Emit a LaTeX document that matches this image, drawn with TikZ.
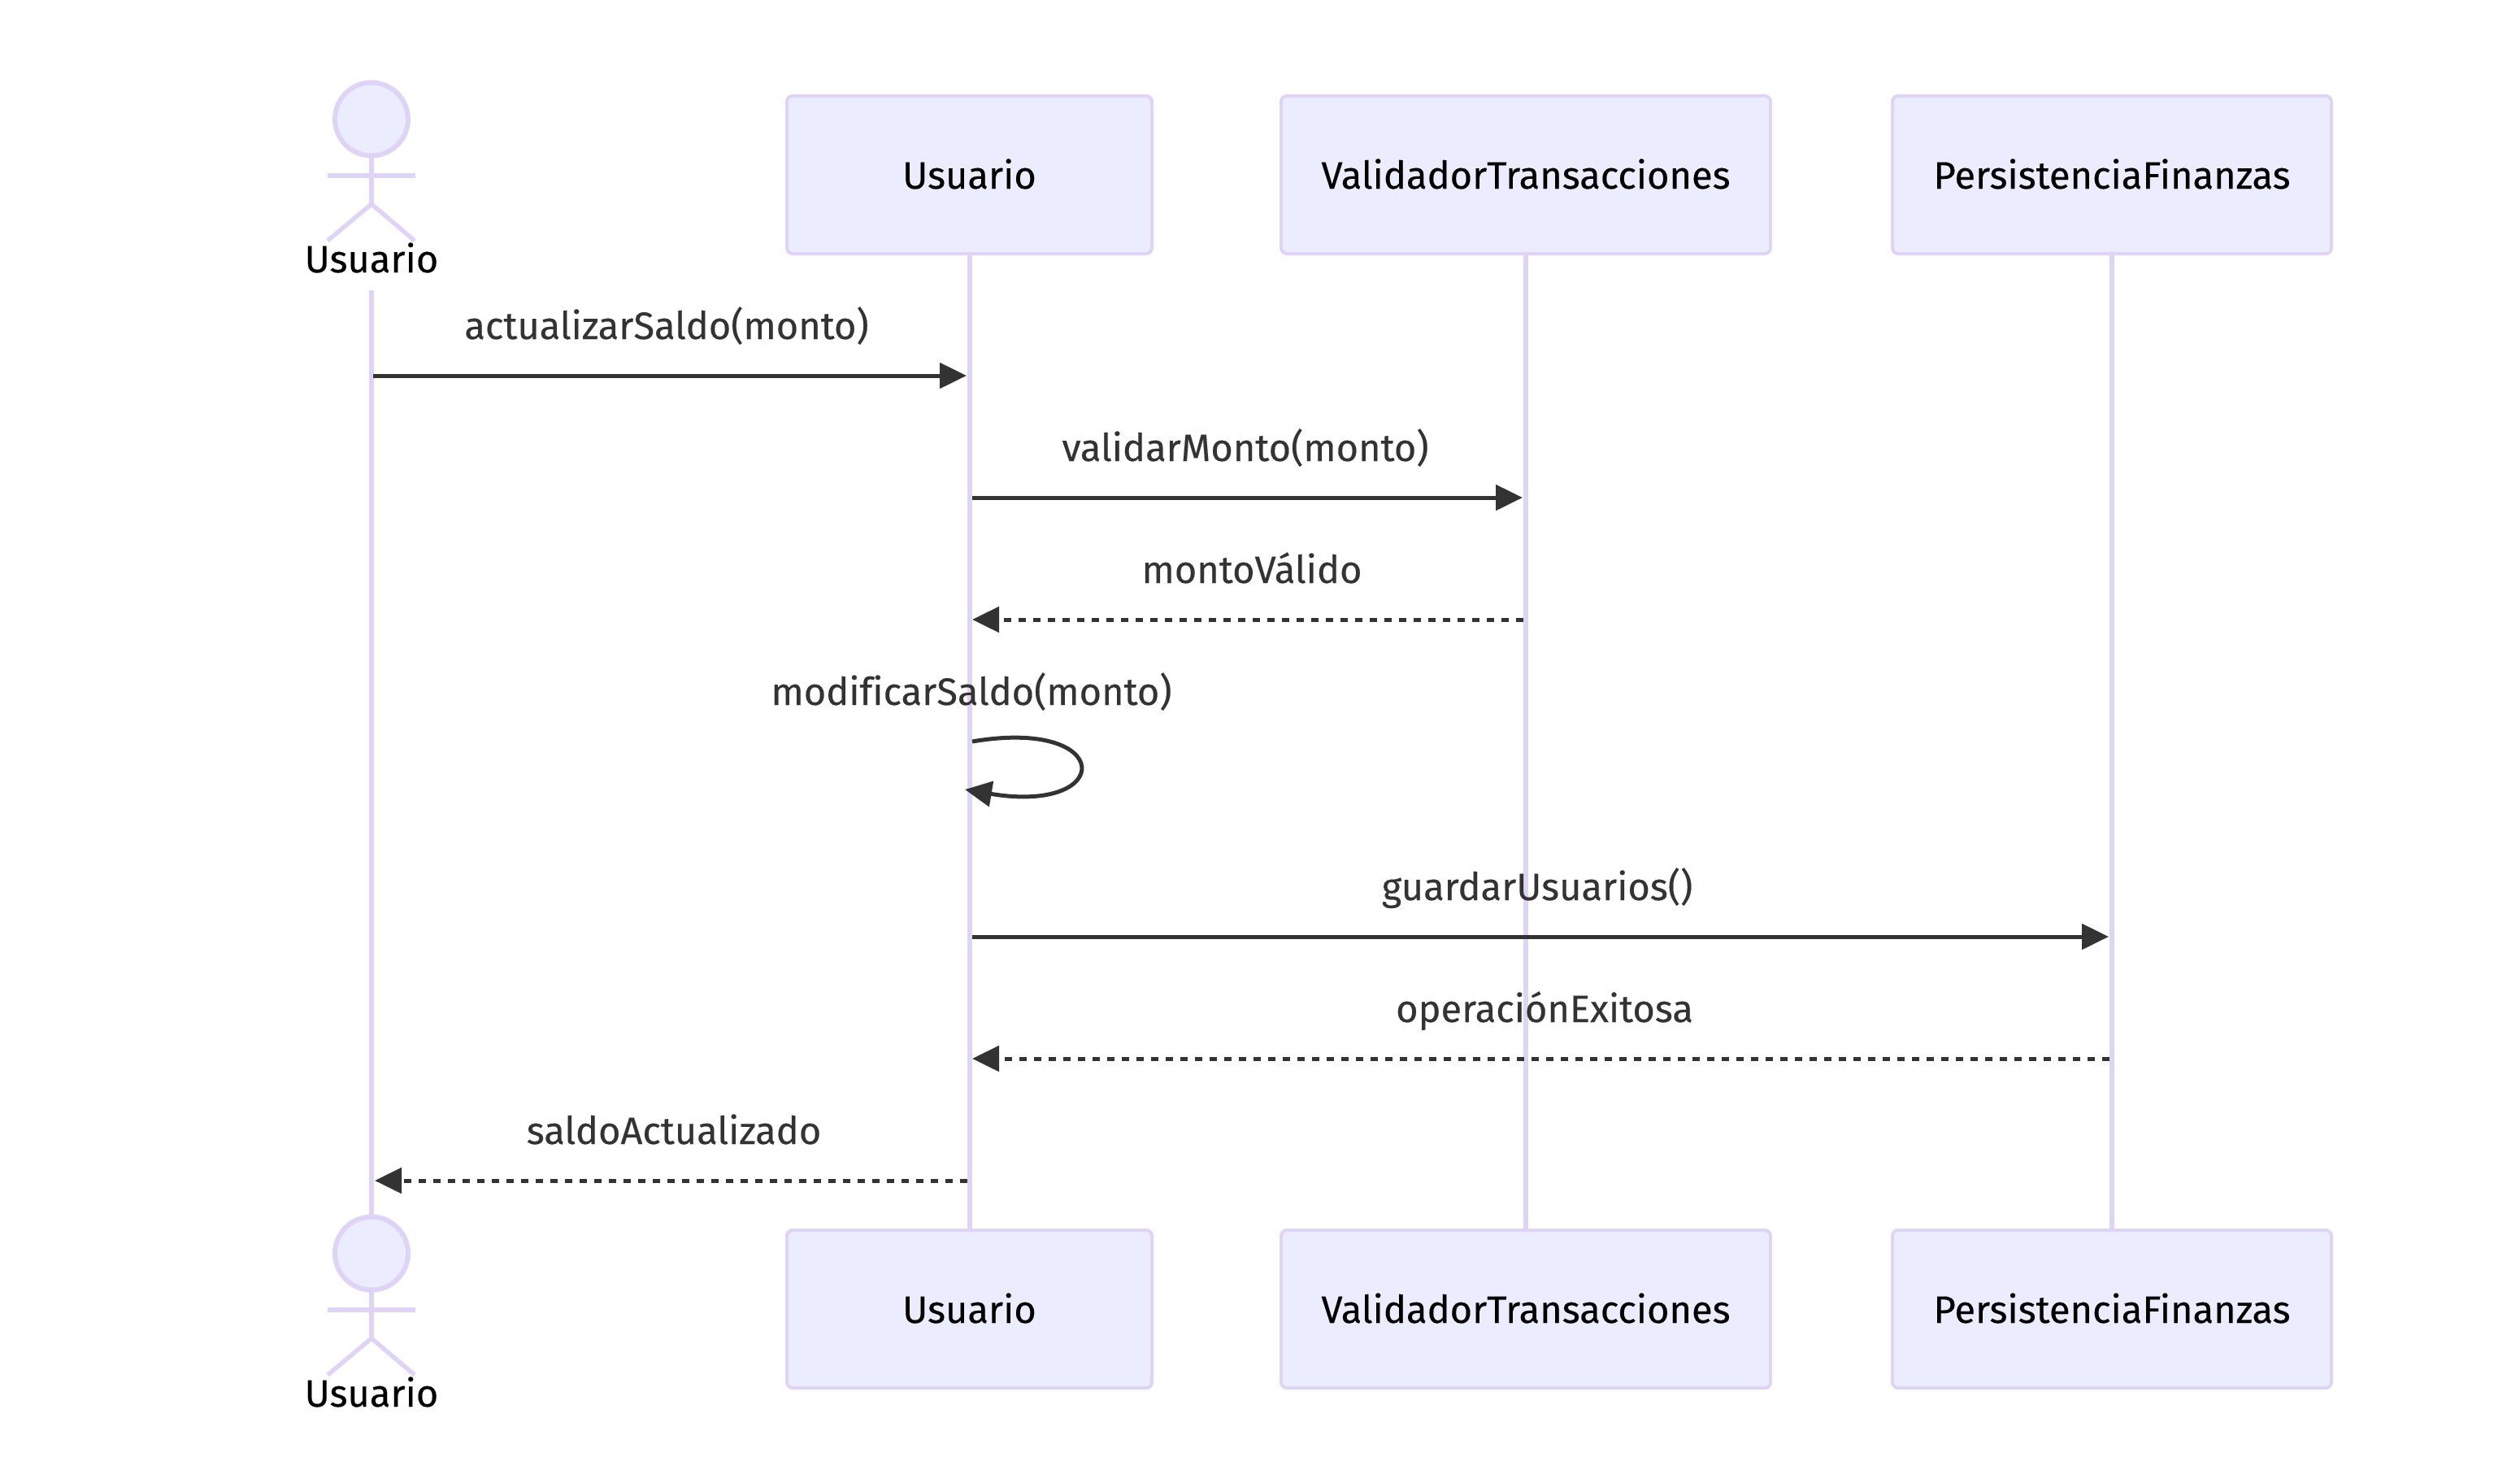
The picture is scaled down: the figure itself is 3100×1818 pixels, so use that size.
\documentclass[tikz,border=0pt]{standalone}
\usepackage{fontspec}
\setmainfont[Ligatures=NoCommon,FakeBold=0.25,AutoFakeBold=false]{Fira Sans}
\usetikzlibrary{arrows.meta}
\definecolor{lav}{HTML}{DFD4F5}
\definecolor{boxfill}{HTML}{ECECFF}
\definecolor{ink}{HTML}{333333}
\tikzset{
  x=1pt,y=-1pt,
  box/.style={draw=lav,fill=boxfill,line width=4pt,rounded corners=7pt,minimum height=194pt,inner sep=0pt,text=black,anchor=north west},
  boxlabel/.style={font=\fontsize{47}{50}\selectfont,text=black,anchor=base,inner sep=0pt},
  msglabel/.style={font=\fontsize{47}{50}\selectfont,text=ink,anchor=base,inner sep=0pt},
  lifeline/.style={draw=lav,line width=6pt},
  stick/.style={draw=lav,line width=5.5pt},
  solidmsg/.style={draw=ink,line width=5pt,-{Triangle[length=33pt,width=31pt,fill=ink]}},
  dashmsg/.style={solidmsg,dash pattern=on 9pt off 9pt},
}
\begin{document}
\begin{tikzpicture}
\useasboundingbox (0,0) rectangle (3100,1818);
% participant boxes
\node[box,minimum width=449pt] (b1) at (966,116) {};
\node[box,minimum width=602pt] (c1) at (1574,116) {};
\node[box,minimum width=540pt] (d1) at (2326,116) {};
\node[box,minimum width=449pt] (b2) at (966,1511) {};
\node[box,minimum width=602pt] (c2) at (1574,1511) {};
\node[box,minimum width=540pt] (d2) at (2326,1511) {};
% actors
\coordinate (atop) at (457,357);
\coordinate (abot) at (457,1494);
\draw[lifeline] (atop) -- (abot);
\draw[lifeline] (b1.south) -- (b2.north);
\draw[lifeline] (c1.south) -- (c2.north);
\draw[lifeline] (d1.south) -- (d2.north);
\foreach \yo in {0,1395}{
  \begin{scope}[yshift=-\yo pt]
  \draw[stick] (457,194) -- (457,251);
  \draw[stick,line width=6pt] (403,216) -- (511,216);
  \draw[stick] (403,296) -- (457,251) -- (510,296);
  \draw[stick,fill=boxfill,line width=6pt] (457,146.5) circle (45pt);
  \end{scope}
}
% texts in boxes
\node[boxlabel] (t1) at (457,335) {Usuario};
\node[boxlabel] (t2) at (1192.5,232) {Usuario};
\node[boxlabel] (t3) at (1877,232) {ValidadorTransacciones};
\node[boxlabel] (t4) at (2598,232) {PersistenciaFinanzas};
\node[boxlabel] (t5) at (457,1730) {Usuario};
\node[boxlabel] (t6) at (1192.5,1627) {Usuario};
\node[boxlabel] (t7) at (1877,1627) {ValidadorTransacciones};
\node[boxlabel] (t8) at (2598,1627) {PersistenciaFinanzas};
% messages
\coordinate (m1s) at (459,462);   \coordinate (m1e) at (1189,462);
\coordinate (m2s) at (1196,612);  \coordinate (m2e) at (1873,612);
\coordinate (m3s) at (1874,762);  \coordinate (m3e) at (1196,762);
\coordinate (m4s) at (1196,912);  \coordinate (m4e) at (1187,971);
\coordinate (m5s) at (1196,1152); \coordinate (m5e) at (2594,1152);
\coordinate (m6s) at (2595,1302); \coordinate (m6e) at (1196,1302);
\coordinate (m7s) at (1190,1452); \coordinate (m7e) at (461,1452);
\draw[solidmsg] (m1s) -- (m1e);
\draw[solidmsg] (m2s) -- (m2e);
\draw[dashmsg] (m3s) -- (m3e);
\draw[solidmsg] (m4s) .. controls (1372,882) and (1372,1002) .. (m4e);
\draw[solidmsg] (m5s) -- (m5e);
\draw[dashmsg] (m6s) -- (m6e);
\draw[dashmsg] (m7s) -- (m7e);
\node[msglabel] (l1) at (820,417) {actualizarSaldo(monto)};
\node[msglabel] (l2) at (1532,567) {validarMonto(monto)};
\node[msglabel] (l3) at (1540,717) {montoVálido};
\node[msglabel] (l4) at (1195,867) {modificarSaldo(monto)};
\node[msglabel] (l5) at (1891,1107) {guardarUsuarios()};
\node[msglabel] (l6) at (1900,1257) {operaciónExitosa};
\node[msglabel] (l7) at (829,1407) {saldoActualizado};
\end{tikzpicture}
\end{document}
